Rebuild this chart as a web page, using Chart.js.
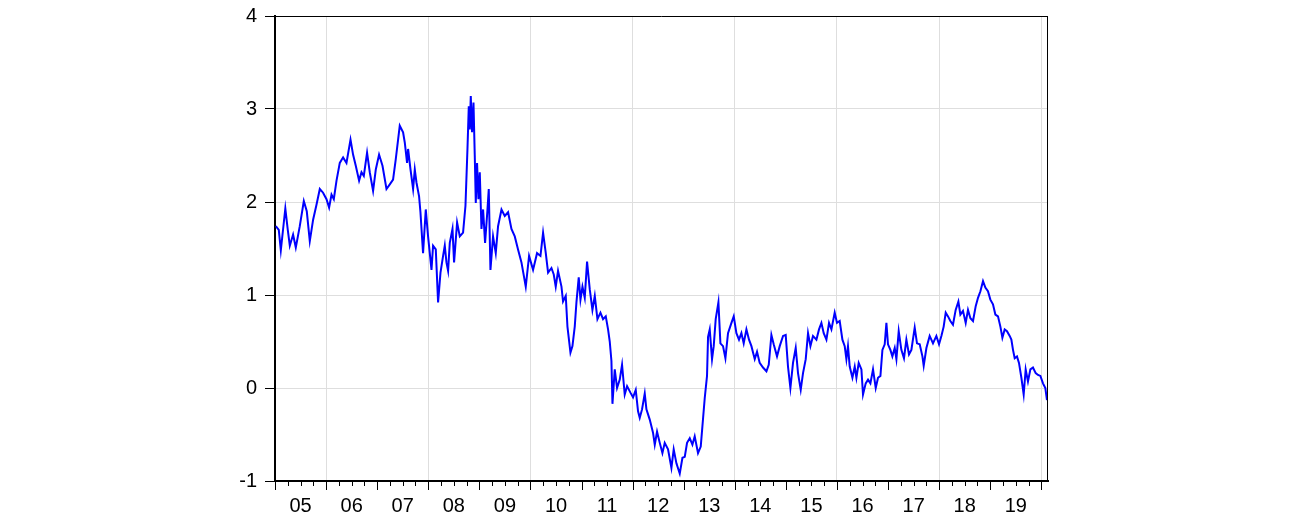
<!DOCTYPE html>
<html>
<head>
<meta charset="utf-8">
<script src="https://cdn.jsdelivr.net/npm/chart.js@4.4.1/dist/chart.umd.min.js"></script>
<style>
html,body{margin:0;padding:0;background:#fff;}
#wrap{width:1312px;height:523px;}
</style>
</head>
<body>
<div id="wrap"><canvas id="c" width="1312" height="523"></canvas></div>
<script>
// Decimal-year dates of the sampled observations
const dates = [
2005.016,2005.074,2005.114,2005.153,2005.202,2005.250,2005.290,2005.354,2005.407,2005.485,
2005.564,2005.622,2005.681,2005.746,2005.812,2005.877,2005.941,2006.008,2006.059,2006.106,
2006.151,2006.204,2006.268,2006.333,2006.399,2006.478,2006.528,2006.581,2006.646,2006.693,
2006.738,2006.802,2006.855,2006.920,2006.973,2007.037,2007.104,2007.182,2007.247,2007.311,
2007.364,2007.442,2007.507,2007.540,2007.585,2007.605,2007.652,2007.703,2007.736,2007.769,
2007.820,2007.847,2007.898,2007.951,2007.996,2008.063,2008.094,2008.147,2008.192,2008.239,
2008.290,2008.323,2008.356,2008.388,2008.421,2008.474,2008.505,2008.564,2008.617,2008.681,
2008.728,2008.767,2008.793,2008.812,2008.832,2008.857,2008.885,2008.910,2008.930,2008.955,
2008.982,2009.008,2009.041,2009.073,2009.112,2009.159,2009.184,2009.217,2009.268,2009.321,
2009.366,2009.433,2009.497,2009.562,2009.628,2009.693,2009.757,2009.824,2009.908,2009.973,
2010.051,2010.129,2010.196,2010.247,2010.300,2010.345,2010.411,2010.456,2010.495,2010.540,
2010.607,2010.638,2010.691,2010.724,2010.783,2010.822,2010.867,2010.900,2010.945,2010.979,
2011.018,2011.063,2011.108,2011.161,2011.213,2011.259,2011.311,2011.370,2011.421,2011.474,
2011.519,2011.552,2011.585,2011.605,2011.650,2011.695,2011.748,2011.793,2011.845,2011.891,
2011.957,2012.008,2012.061,2012.106,2012.139,2012.184,2012.237,2012.270,2012.335,2012.399,
2012.433,2012.478,2012.531,2012.583,2012.628,2012.693,2012.759,2012.804,2012.857,2012.922,
2012.975,2013.020,2013.065,2013.118,2013.170,2013.215,2013.280,2013.333,2013.366,2013.411,
2013.456,2013.476,2013.509,2013.554,2013.587,2013.626,2013.679,2013.718,2013.769,2013.816,
2013.867,2013.934,2013.979,2014.031,2014.082,2014.129,2014.174,2014.227,2014.278,2014.325,
2014.390,2014.435,2014.487,2014.552,2014.619,2014.664,2014.716,2014.761,2014.826,2014.879,
2014.944,2014.996,2015.041,2015.088,2015.139,2015.192,2015.237,2015.290,2015.335,2015.388,
2015.433,2015.480,2015.530,2015.597,2015.648,2015.695,2015.740,2015.793,2015.844,2015.891,
2015.955,2016.000,2016.053,2016.106,2016.151,2016.184,2016.215,2016.249,2016.302,2016.347,
2016.380,2016.425,2016.478,2016.509,2016.562,2016.607,2016.654,2016.705,2016.758,2016.803,
2016.850,2016.889,2016.934,2016.967,2016.998,2017.045,2017.084,2017.130,2017.163,2017.208,
2017.260,2017.311,2017.358,2017.409,2017.456,2017.521,2017.566,2017.619,2017.672,2017.697,
2017.750,2017.814,2017.879,2017.945,2017.997,2018.043,2018.088,2018.128,2018.173,2018.219,
2018.270,2018.323,2018.376,2018.415,2018.466,2018.519,2018.564,2018.611,2018.662,2018.715,
2018.760,2018.807,2018.858,2018.904,2018.955,2019.002,2019.053,2019.100,2019.151,2019.198,
2019.237,2019.282,2019.327,2019.380,2019.413,2019.445,2019.478,2019.523,2019.562,2019.609,
2019.654,2019.693,2019.738,2019.785,2019.836,2019.889,2019.934,2019.981,2020.032,2020.078,
2020.110
];
// Series values
const values = [
1.74,1.70,1.48,1.68,1.93,1.70,1.53,1.65,1.51,1.74,
2.01,1.90,1.58,1.81,1.97,2.14,2.10,2.03,1.94,2.08,
2.03,2.23,2.42,2.48,2.42,2.67,2.51,2.39,2.23,2.32,
2.28,2.53,2.32,2.12,2.35,2.51,2.39,2.14,2.19,2.24,
2.46,2.82,2.75,2.64,2.42,2.57,2.35,2.14,2.35,2.21,
2.06,1.89,1.45,1.92,1.63,1.27,1.53,1.49,0.92,1.24,
1.42,1.53,1.35,1.26,1.56,1.71,1.35,1.78,1.63,1.67,
1.96,2.57,3.03,2.78,3.14,2.75,3.07,2.50,1.99,2.42,
2.03,2.32,1.71,1.92,1.56,1.92,2.14,1.27,1.63,1.45,
1.74,1.92,1.85,1.89,1.71,1.63,1.49,1.35,1.09,1.42,
1.27,1.45,1.42,1.67,1.45,1.24,1.29,1.22,1.09,1.26,
1.09,0.93,0.99,0.66,0.38,0.45,0.66,0.92,1.19,0.95,
1.09,0.97,1.36,1.06,0.84,0.99,0.74,0.81,0.74,0.77,
0.63,0.50,0.29,-0.17,0.20,0.00,0.09,0.25,-0.07,0.02,
-0.05,-0.10,-0.02,-0.25,-0.32,-0.23,-0.06,-0.23,-0.34,-0.48,
-0.61,-0.47,-0.59,-0.70,-0.59,-0.66,-0.86,-0.66,-0.81,-0.92,
-0.75,-0.74,-0.59,-0.54,-0.61,-0.52,-0.70,-0.63,-0.41,-0.11,
0.13,0.55,0.63,0.31,0.45,0.74,0.92,0.48,0.45,0.32,
0.59,0.70,0.77,0.59,0.52,0.59,0.48,0.63,0.52,0.45,
0.31,0.39,0.27,0.22,0.18,0.25,0.57,0.47,0.34,0.45,
0.56,0.57,0.23,0.00,0.27,0.43,0.16,-0.02,0.16,0.31,
0.59,0.45,0.56,0.52,0.63,0.70,0.59,0.52,0.70,0.63,
0.81,0.70,0.72,0.52,0.45,0.31,0.45,0.23,0.11,0.23,
0.11,0.27,0.20,-0.07,0.05,0.09,0.05,0.20,0.00,0.11,
0.13,0.41,0.47,0.70,0.47,0.41,0.34,0.43,0.31,0.61,
0.41,0.32,0.52,0.36,0.41,0.65,0.48,0.47,0.34,0.24,
0.43,0.56,0.48,0.56,0.47,0.56,0.66,0.81,0.77,0.72,
0.68,0.84,0.93,0.79,0.83,0.70,0.84,0.75,0.72,0.88,
0.97,1.04,1.15,1.08,1.04,0.95,0.90,0.79,0.77,0.66,
0.54,0.63,0.61,0.56,0.52,0.41,0.32,0.34,0.27,0.11,
-0.07,0.20,0.07,0.20,0.22,0.16,0.14,0.13,0.05,0.00,
-0.13
];
// Axis tick labels
const yearLabels = ['05','06','07','08','09','10','11','12','13','14','15','16','17','18','19'];
const yTicks = [-1,0,1,2,3,4];
const firstYear = 2005;
const axisEnd = 2020.13;

const points = dates.map((d,i)=>({x:d,y:values[i]}));
const FONT = '"Liberation Sans", Arial, sans-serif';

const frameAndTicks = {
  id:'frameAndTicks',
  afterDraw(chart){
    const {ctx, chartArea:a, scales:{x}} = chart;
    ctx.save();
    ctx.strokeStyle = '#000';
    ctx.lineWidth = 1;
    ctx.beginPath();
    ctx.moveTo(a.left, a.top+0.5); ctx.lineTo(a.right, a.top+0.5);
    ctx.moveTo(a.right-0.5, a.top); ctx.lineTo(a.right-0.5, a.bottom);
    ctx.stroke();
    ctx.beginPath();
    for (let q = firstYear*4; q <= (firstYear+yearLabels.length)*4; q++) {
      const v = q/4;
      const px = Math.round(x.getPixelForValue(v))+0.5;
      const len = (q % 4 === 0) ? 9 : 5;
      ctx.moveTo(px, a.bottom);
      ctx.lineTo(px, a.bottom+len);
    }
    ctx.stroke();
    ctx.restore();
  }
};

new Chart(document.getElementById('c'), {
  type:'line',
  data:{datasets:[{data:points, borderColor:'#0000ff', borderWidth:2, pointRadius:0, tension:0, fill:false}]},
  options:{
    responsive:false,
    animation:false,
    devicePixelRatio:1,
    layout:{padding:{left:0,right:264,top:16,bottom:0}},
    plugins:{legend:{display:false}, tooltip:{enabled:false}},
    scales:{
      x:{
        type:'linear',
        min:firstYear, max:axisEnd,
        afterBuildTicks(s){
          const t=[];
          for(let q=firstYear*4;q<=(firstYear+yearLabels.length)*4;q++) t.push({value:q/4});
          s.ticks=t;
        },
        afterFit(s){ s.height = 42; s.paddingLeft = 0; s.paddingRight = 0; },
        border:{display:true,color:'#000',width:2},
        grid:{
          drawTicks:false,
          color(c){ const v=c.tick&&c.tick.value; return (Number.isInteger(v) && v>firstYear && (v-firstYear)%2===1) ? '#dedede' : 'rgba(0,0,0,0)'; },
          lineWidth:1
        },
        ticks:{
          autoSkip:false, maxRotation:0, minRotation:0, padding:13,
          color:'#000', font:{family:FONT, size:20},
          callback(v){ const f=v-Math.floor(v); if (Math.abs(f-0.5)<1e-6){ return yearLabels[Math.floor(v)-firstYear]||''; } return ''; }
        }
      },
      y:{
        min:-1, max:4,
        afterBuildTicks(s){ s.ticks = yTicks.map(v=>({value:v})); },
        afterFit(s){ s.width = 275; s.paddingTop = 0; s.paddingBottom = 0; },
        border:{display:true,color:'#000',width:2},
        grid:{color:'#dedede', lineWidth:1, tickLength:10, tickColor:'#000', tickWidth:1},
        ticks:{padding:8, color:'#000', font:{family:FONT, size:20}}
      }
    }
  },
  plugins:[frameAndTicks]
});
</script>
</body>
</html>
